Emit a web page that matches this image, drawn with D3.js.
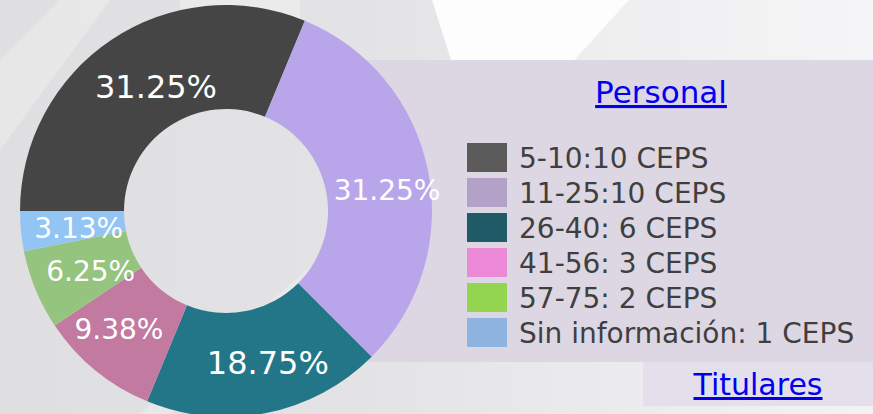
<!DOCTYPE html>
<meta charset="utf-8">
<html>
<head>
    <script src="https://d3js.org/d3.v7.min.js"></script>
    <style>
        body { margin: 0; overflow: hidden; }
        svg { display: block; font-family: "DejaVu Sans", sans-serif; }
    </style>
</head>
<body>
<script>

    // datos: CEPS por número de personal
    var rangos = ["5-10", "11-25", "26-40", "41-56", "57-75", "Sin información"];
    var ceps = [10, 10, 6, 3, 2, 1];
    var leyenda = ["5-10:10 CEPS", "11-25:10 CEPS", "26-40: 6 CEPS", "41-56: 3 CEPS", "57-75: 2 CEPS", "Sin información: 1 CEPS"];

    // colores del anillo y de la leyenda (no son los mismos en el original)
    var coloresPie = ["#454545", "#b9a6ea", "#237588", "#c27aa0", "#95c47f", "#93c5f4"];
    var coloresLeyenda = ["#5b5b5b", "#b3a1c8", "#225b68", "#ec8ad8", "#93d450", "#8fb4e2"];

    // pequeño ajuste de las etiquetas respecto al centroide (px)
    var ajusteEtiquetas = [[15, 3], [11, 9], [12, 1], [-10, 0], [6, 1], [5, 2]];

    var ancho = 873;
    var alto = 414;

    var svg = d3.select("body").append("svg")
        .attr("width", ancho)
        .attr("height", alto);

    // fondo gris con reflejos
    var defs = svg.append("defs");
    var grad = defs.append("linearGradient").attr("id", "fondo")
        .attr("x1", "0%").attr("x2", "100%").attr("y1", "0%").attr("y2", "0%");
    grad.append("stop").attr("offset", "0%").attr("stop-color", "#dfdfe1");
    grad.append("stop").attr("offset", "40%").attr("stop-color", "#e3e3e5");
    grad.append("stop").attr("offset", "100%").attr("stop-color", "#f3f3f5");

    svg.append("rect").attr("width", ancho).attr("height", alto).attr("fill", "url(#fondo)");

    var reflejos = [
        [[432, 0], [629, 0], [520, 120], [470, 120]],
        [[629, 0], [873, 0], [873, 60], [575, 60]],
        [[0, 60], [60, 0], [110, 0], [0, 150]],
        [[140, 414], [330, 250], [350, 250], [170, 414]],
        [[180, 0], [300, 0], [300, 60], [180, 60]]
    ];
    var opacidades = [0.9, 0.2, 0.25, 0.25, 0.3];
    svg.selectAll("polygon.reflejo")
        .data(reflejos)
        .enter().append("polygon")
        .attr("class", "reflejo")
        .attr("points", function (d) { return d.join(" "); })
        .attr("fill", "#ffffff")
        .attr("opacity", function (d, i) { return opacidades[i]; });

    // panel de la leyenda
    svg.append("rect")
        .attr("x", 345).attr("y", 60)
        .attr("width", ancho - 345).attr("height", 302)
        .attr("fill", "#ddd7e4");

    svg.append("rect")
        .attr("x", 643).attr("y", 362)
        .attr("width", ancho - 643).attr("height", 44)
        .attr("fill", "#e3dfeb");

    // anillo
    var cx = 226, cy = 211;
    var rExt = 206, rInt = 102;

    var pie = d3.pie()
        .sort(null)
        .startAngle(-Math.PI / 2)
        .endAngle(Math.PI * 1.5)
        .value(function (d) { return d; });

    var arco = d3.arc().innerRadius(rInt).outerRadius(rExt);
    var arcoEtiqueta = d3.arc().innerRadius(153).outerRadius(153);

    var total = d3.sum(ceps);
    var color = d3.scaleOrdinal().domain(rangos).range(coloresPie);

    var g = svg.append("g").attr("transform", "translate(" + cx + "," + cy + ")");

    var arcos = pie(ceps);

    g.selectAll("path")
        .data(arcos)
        .enter().append("path")
        .attr("d", arco)
        .attr("fill", function (d, i) { return color(rangos[i]); });

    g.selectAll("text")
        .data(arcos)
        .enter().append("text")
        .attr("transform", function (d, i) {
            var c = arcoEtiqueta.centroid(d);
            return "translate(" + (c[0] + ajusteEtiquetas[i][0]) + "," + (c[1] + ajusteEtiquetas[i][1]) + ")";
        })
        .attr("dy", "0.36em")
        .attr("text-anchor", "middle")
        .attr("fill", "#ffffff")
        .style("font-size", function (d, i) { return (i === 0 || i === 2) ? "32px" : "28px"; })
        .text(function (d) { return (d.value / total * 100).toFixed(2) + "%"; });

    // leyenda
    var y = d3.scaleBand().domain(leyenda).range([143, 143 + 35 * leyenda.length]);

    var filas = svg.selectAll("g.fila")
        .data(leyenda)
        .enter().append("g")
        .attr("class", "fila")
        .attr("transform", function (d) { return "translate(467," + y(d) + ")"; });

    filas.append("rect")
        .attr("width", 40).attr("height", 29)
        .attr("fill", function (d, i) { return coloresLeyenda[i]; });

    filas.append("text")
        .attr("x", 52).attr("y", 25)
        .attr("fill", "#3f3f3f")
        .style("font-size", "28px")
        .text(function (d) { return d; });

    // enlaces
    svg.append("text")
        .attr("x", 661).attr("y", 103)
        .attr("text-anchor", "middle")
        .attr("fill", "#0000ee")
        .style("font-size", "31px")
        .style("text-decoration", "underline")
        .text("Personal");

    svg.append("text")
        .attr("x", 758).attr("y", 395)
        .attr("text-anchor", "middle")
        .attr("fill", "#0000ee")
        .style("font-size", "30px")
        .style("text-decoration", "underline")
        .text("Titulares");

</script>
</body>
</html>
